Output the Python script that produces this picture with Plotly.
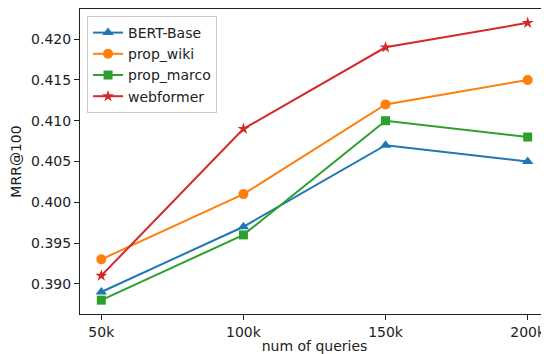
import plotly.graph_objects as go

queries = [50, 100, 150, 200]
query_labels = ["50k", "100k", "150k", "200k"]
bert_base = [0.389, 0.397, 0.407, 0.405]
prop_wiki = [0.393, 0.401, 0.412, 0.415]
prop_marco = [0.388, 0.396, 0.410, 0.408]
webformer = [0.391, 0.409, 0.419, 0.422]
y_ticks = [0.390, 0.395, 0.400, 0.405, 0.410, 0.415, 0.420]

series = [
    ("BERT-Base", bert_base, "#1f77b4", "triangle-up", 10),
    ("prop_wiki", prop_wiki, "#ff7f0e", "circle", 10),
    ("prop_marco", prop_marco, "#2ca02c", "square", 9),
    ("webformer", webformer, "#d62728", "star", 9),
]

fig = go.Figure()
for name, vals, color, sym, size in series:
    fig.add_trace(go.Scatter(
        x=queries, y=vals, name=name, mode="lines+markers",
        line=dict(color=color, width=2),
        marker=dict(symbol=sym, size=size, color=color),
    ))

font = dict(family="DejaVu Sans", size=14, color="#222")
# page body has an 8px margin, so the figure is sized/offset to compensate
fig.update_layout(
    width=541, height=346,
    margin=dict(l=72, r=0, t=1, b=40),
    paper_bgcolor="white", plot_bgcolor="white",
    font=font,
    showlegend=True,
    legend=dict(x=0.015, y=0.977, xanchor="left", yanchor="top",
                bgcolor="rgba(255,255,255,0.8)", bordercolor="#cccccc", borderwidth=1,
                font=dict(family="DejaVu Sans", size=14, color="#222"),
                tracegroupgap=0, itemwidth=30),
)
fig.update_xaxes(
    range=[42.5, 207.5], tickvals=queries, ticktext=query_labels,
    automargin=False,
    showgrid=False, zeroline=False, showline=True, mirror=True,
    linecolor="#222", linewidth=1, ticks="outside", ticklen=5, tickcolor="#222",
    title=dict(text="num of queries", standoff=3, font=font),
)
fig.update_yaxes(
    range=[0.3863, 0.4237], tickvals=y_ticks, tickformat=".3f",
    automargin=False,
    showgrid=False, zeroline=False, showline=True, mirror=True,
    linecolor="#222", linewidth=1, ticks="outside", ticklen=5, tickcolor="#222",
    title=dict(text="MRR@100", standoff=6, font=font),
)
fig.write_html("out.html")
